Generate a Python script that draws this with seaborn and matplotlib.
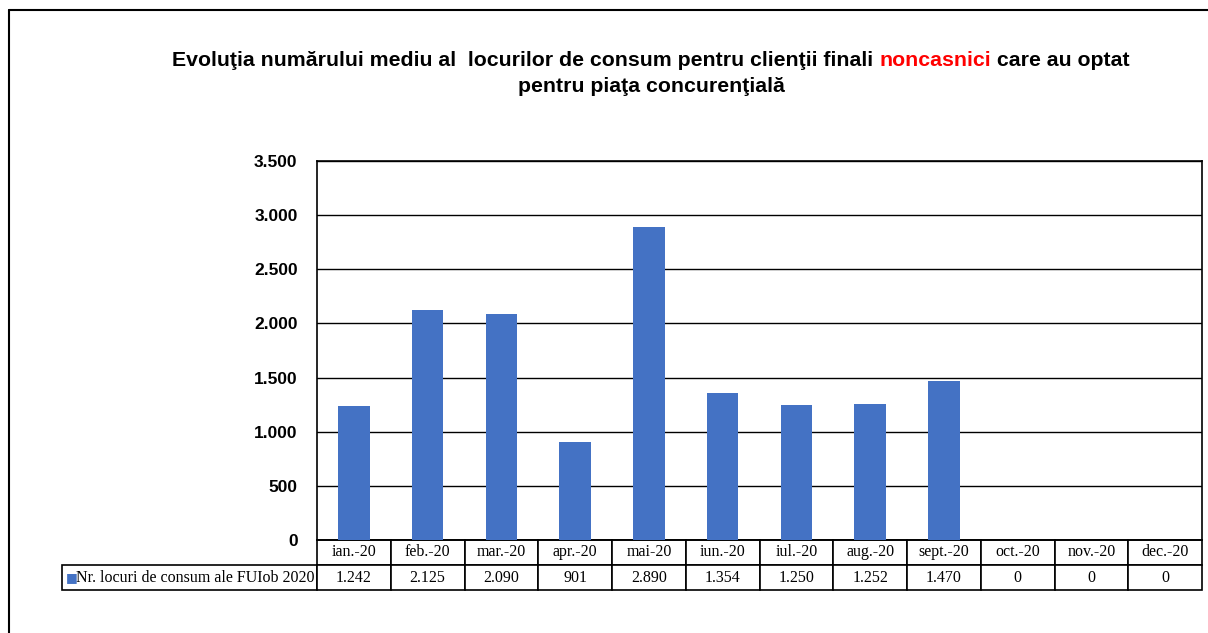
import numpy as np
import pandas as pd
import matplotlib.pyplot as plt
import seaborn as sns
from matplotlib.lines import Line2D

months = ["ian.-20", "feb.-20", "mar.-20", "apr.-20", "mai-20", "iun.-20",
          "iul.-20", "aug.-20", "sept.-20", "oct.-20", "nov.-20", "dec.-20"]
values = [1242, 2125, 2090, 901, 2890, 1354, 1250, 1252, 1470, 0, 0, 0]
value_labels = ["1.242", "2.125", "2.090", "901", "2.890", "1.354",
                "1.250", "1.252", "1.470", "0", "0", "0"]
series_name = "Nr. locuri de consum ale FUIob 2020"
yticks = [0, 500, 1000, 1500, 2000, 2500, 3000, 3500]
ytick_labels = ["0", "500", "1.000", "1.500", "2.000", "2.500", "3.000", "3.500"]

bar_color = "#4472C4"

sns.set_style("white")
plt.rcParams["font.family"] = ["Liberation Sans", "DejaVu Sans"]
plt.rcParams["text.color"] = "black"
plt.rcParams["ytick.color"] = "black"

W, H = 1208, 633
fig = plt.figure(figsize=(W / 100, H / 100), dpi=100)
ax = fig.add_axes([317 / W, 1 - 540 / H, (1202 - 317) / W, (540 - 161) / H])

df = pd.DataFrame({"month": months, "value": values})
sns.barplot(data=df, x="month", y="value", color=bar_color, saturation=1,
            width=0.43, linewidth=0, ax=ax, zorder=3)

ax.set_ylim(0, 3500)
ax.set_yticks(yticks)
ax.set_yticklabels(ytick_labels, fontsize=12.5, fontweight="bold", color="black")
ax.tick_params(axis="y", length=0, pad=14)
ax.set_xticks([])
ax.set_xlabel("")
ax.set_ylabel("")
ax.set_xlim(-0.5, 11.5)
ax.grid(axis="y", color="black", linewidth=1, zorder=0)
for s in ax.spines.values():
    s.set_visible(True)
    s.set_color("black")
    s.set_linewidth(1.2)

# data table below the plot
ax_w = 1202 - 317
ax_h = 540 - 161
x0 = (62 - 317) / ax_w
tbl_w = (1202 - 62) / ax_w
tbl_h = 50 / ax_h
first_w = 255 / (1202 - 62)
other_w = (1 - first_w) / len(months)
table = ax.table(cellText=[[series_name] + value_labels],
                 colLabels=[""] + months,
                 colWidths=[first_w] + [other_w] * len(months),
                 cellLoc="center",
                 bbox=[x0, -tbl_h, tbl_w, tbl_h])
table.auto_set_font_size(False)
for (r, c), cell in table.get_celld().items():
    cell.set_edgecolor("black")
    cell.set_linewidth(1.2)
    cell.get_text().set_fontfamily(["Liberation Serif", "DejaVu Serif"])
    cell.get_text().set_fontsize(11.5)
    cell.get_text().set_color("black")
    if r == 0 and c == 0:
        cell.visible_edges = ""
    if r == 1 and c == 0:
        cell.get_text().set_text("   " + series_name)
        cell._loc = "left"
        cell.PAD = 0.01
# legend key square
fig.text(66 / W, 1 - 578 / H, "■", color=bar_color, fontsize=9,
         va="center", ha="left", family="DejaVu Sans")

# title with red word
title_parts = [("Evoluţia numărului mediu al  locurilor de consum pentru clienţii finali ", "black"),
               ("noncasnici", "red"),
               (" care au optat", "black")]
renderer = fig.canvas.get_renderer()
texts = []
for s, col in title_parts:
    t = fig.text(0, 1 - 60 / H, s, color=col, fontsize=15.3, fontweight="bold",
                 va="center", ha="left")
    texts.append(t)
widths = [t.get_window_extent(renderer).width for t in texts]
total = sum(widths)
x = 651 - total / 2
for t, w in zip(texts, widths):
    t.set_x(x / W)
    x += w
fig.text(651 / W, 1 - 87 / H, "pentru piaţa concurenţială", fontsize=15.3,
         fontweight="bold", ha="center", va="center", color="black")

# outer frame of the chart area
fig.add_artist(Line2D([9 / W, 9 / W], [0, 1 - 10 / H], color="black", lw=1.5,
                      transform=fig.transFigure))
fig.add_artist(Line2D([9 / W, 1], [1 - 10 / H, 1 - 10 / H], color="black", lw=1.5,
                      transform=fig.transFigure))

fig.savefig("out.png", dpi=100)
